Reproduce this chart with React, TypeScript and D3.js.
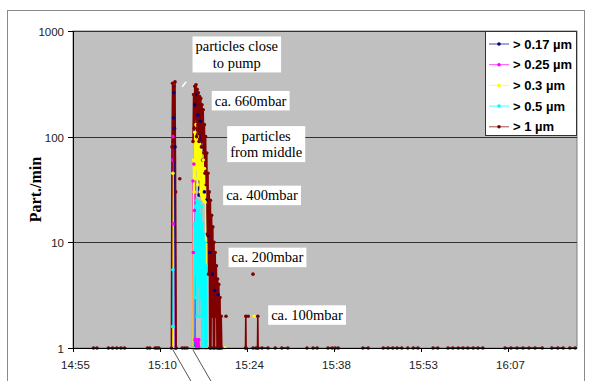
import { useEffect, useRef } from "react"
import * as d3 from "d3"

const W = 591
const H = 381

// x = minutes after 14:55, y = Part./min ; null = gap in the line
const tickMinutes = [0, 14.5, 29, 43.5, 58, 72.5]
const tickLabels = ["14:55", "15:10", "15:24", "15:38", "15:53", "16:07"]
const yTicks = [1, 10, 100, 1000]

const seriesNames = ["> 0.17 µm", "> 0.25 µm", "> 0.3 µm", "> 0.5 µm", "> 1 µm"]
const seriesColors = ["#000080", "#ff00ff", "#ffff00", "#00ffff", "#800000"]

const p017 = [
  [16.7, 1], [16.75, 150], [16.8, 260], [16.9, 120], [17.0, 80], [17.1, 1], null,
  [20.2, 1], [20.3, 200], [20.5, 250], [20.8, 160], [21.0, 28], [21.2, 140], [21.6, 60], [21.9, 30],
  [22.2, 25], [22.5, 11.6], [22.8, 8], [23.2, 5], [23.6, 3.5], [24.2, 3.2], [24.4, 1],
]

const p025 = [
  [16.55, 1], [16.6, 60], [16.65, 100], [16.7, 15], [16.75, 1], null,
  [19.95, 1], [20.0, 38], [20.05, 8], [20.15, 55], [20.25, 20], [20.35, 1.2], [20.45, 1], [20.55, 1.2],
  [20.65, 1], [20.75, 1.1], [20.85, 1], [20.95, 1.2], [21.05, 1],
]

const p03 = [
  [16.6, 1], [16.65, 45], [16.7, 1], null,
  [20.0, 1], [20.1, 60], [20.2, 30], [20.3, 110], [20.4, 40], [20.5, 130], [20.6, 50], [20.7, 100],
  [20.8, 35], [20.9, 90], [21.0, 40], [21.1, 85], [21.2, 30], [21.3, 75], [21.4, 28], [21.5, 70],
  [21.6, 26], [21.7, 60], [21.8, 25], [21.9, 50], [22.0, 24], [22.1, 35], [22.2, 1], null,
  [25.3, 1], null,
  [30.2, 2],
]

const p05 = [
  [16.62, 1.6], [16.65, 5.5], [16.68, 1.6], null,
  [20.1, 1], [20.2, 15], [20.3, 3], [20.4, 22], [20.5, 5], [20.6, 25], [20.7, 2], [20.8, 20],
  [20.9, 4], [21.0, 24], [21.1, 2], [21.2, 18], [21.3, 3], [21.4, 22], [21.5, 1], [21.6, 15],
  [21.7, 2], [21.8, 12], [21.9, 1], [22.0, 10], [22.1, 1], [22.2, 6], [22.3, 1],
]

const p1 = [
  [3.4, 1], [4.0, 1], null,
  [5.9, 1], [6.6, 1], [7.3, 1], [8.0, 1], [8.6, 1], null,
  [12.4, 1], [12.8, 1], null,
  [13.7, 1], [14.0, 1], [14.3, 1], null,
  [16.4, 1], [16.5, 80], [16.6, 320], [16.7, 90], [16.8, 300], [16.9, 60], [17.0, 330], [17.1, 30], [17.2, 1], null,
  [17.8, 40], null,
  [18.2, 1], [18.6, 1], [19.0, 1], null,
  [20.0, 90], [20.1, 250], [20.2, 120], [20.3, 300], [20.4, 150], [20.5, 310], [20.6, 100], [20.7, 280],
  [20.8, 130], [20.9, 260], [21.0, 90], [21.1, 240], [21.2, 110], [21.3, 230], [21.4, 80], [21.5, 200],
  [21.6, 90], [21.7, 180], [21.8, 70], [21.9, 130], [22.0, 45], [22.1, 100], [22.2, 35], [22.3, 70],
  [22.4, 12], [22.5, 45], [22.6, 5], [22.7, 30], [22.8, 1], [22.9, 25], [23.0, 1], [23.1, 18],
  [23.2, 2], [23.3, 14], [23.4, 1], [23.5, 10], [23.6, 1], [23.7, 8], [23.8, 2], [23.9, 6],
  [24.0, 1], [24.1, 4.5], [24.2, 1], [24.3, 4], [24.4, 1], [24.5, 3], [24.6, 1], [24.7, 2], [24.8, 1], null,
  [25.5, 2], null,
  [28.75, 1], [28.8, 2], [28.85, 1], null,
  [29.2, 2], null,
  [30.0, 5], null,
  [30.0, 1], [30.5, 1], [30.75, 1], [30.8, 2], [30.85, 1], [31.5, 1], [32.5, 1], null,
  [33.7, 1], null,
  [34.8, 1], [35.8, 1], null,
  [39.0, 1], null,
  [40.0, 1], [40.7, 1], null,
  [42.5, 1], [43.2, 1], [43.7, 1], [44.2, 1], null,
  [48.3, 1], [49.2, 1], null,
  [51.7, 1], [52.5, 1], [53.3, 1], [54.0, 1], [54.8, 1], null,
  [55.8, 1], null,
  [56.7, 1], [57.5, 1], null,
  [60.0, 1], [60.8, 1], null,
  [62.5, 1], [63.3, 1], [64.2, 1], [65.0, 1], [65.8, 1], [66.7, 1], [67.5, 1], [68.3, 1], null,
  [72.0, 1], [73.0, 1], [74.0, 1], [75.0, 1], [76.0, 1], [77.0, 1], [78.2, 1], null,
  [79.8, 1], [80.8, 1], [81.7, 1], null,
  [82.8, 1], [83.7, 1],
]

const seriesData = [p017, p025, p03, p05, p1]

// text boxes, anchored at (minute, value) of their centre
const notes = [
  { lines: ["particles close", "to pump"], m: 27.3, v: 600 },
  { lines: ["ca. 660mbar"], m: 29.6, v: 219 },
  { lines: ["particles", "from middle"], m: 32.2, v: 85 },
  { lines: ["ca. 400mbar"], m: 31.5, v: 27.8 },
  { lines: ["ca. 200mbar"], m: 32.4, v: 7.2 },
  { lines: ["ca. 100mbar"], m: 39, v: 2.05 },
]

const App = () => {
  const svgRef = useRef<SVGSVGElement>(null)

  useEffect(() => {
    document.body.style.margin = "0"
    const svg = d3.select(svgRef.current)
    svg.selectAll("*").remove()

    const left = 73, right = 577, top = 31, bottom = 348

    const x = d3.scaleLinear().domain([0, 84]).range([left, right])
    const y = d3.scaleLog().domain([1, 1000]).range([bottom, top])

    // chart border
    svg.append("rect").attr("x", 7.5).attr("y", 10.5).attr("width", 577).attr("height", 380)
      .attr("fill", "#fff").attr("stroke", "#8a8a8a")

    // plot area
    svg.append("rect").attr("x", left).attr("y", top).attr("width", right - left).attr("height", bottom - top)
      .attr("fill", "#c0c0c0").attr("stroke", "#808080")

    svg.append("g").selectAll("line").data([10, 100, 1000]).join("line")
      .attr("x1", left).attr("x2", right)
      .attr("y1", (d) => Math.round(y(d)) + 0.5).attr("y2", (d) => Math.round(y(d)) + 0.5)
      .attr("stroke", "#333").attr("stroke-width", 1)

    const line = d3.line<any>()
      .defined((d) => d !== null)
      .x((d) => x(d[0]))
      .y((d) => y(d[1]))

    // lines first, then markers
    seriesData.forEach((data, i) => {
      svg.append("path").datum(data).attr("d", line)
        .attr("fill", "none").attr("stroke", seriesColors[i]).attr("stroke-width", 1.6)
    })
    seriesData.forEach((data, i) => {
      svg.append("g").selectAll("circle").data(data.filter((d) => d !== null)).join("circle")
        .attr("cx", (d: any) => x(d[0])).attr("cy", (d: any) => y(d[1]))
        .attr("r", 1.8).attr("fill", seriesColors[i])
    })

    // y axis
    const ya = svg.append("g").attr("font-family", "'Liberation Sans', Arial, sans-serif").attr("font-size", 11.5)
    ya.append("line").attr("x1", left + 0.5).attr("x2", left + 0.5).attr("y1", top).attr("y2", bottom)
      .attr("stroke", "#000")
    yTicks.forEach((t) => {
      const yy = Math.round(y(t)) + 0.5
      ya.append("line").attr("x1", left - 5).attr("x2", left).attr("y1", yy).attr("y2", yy).attr("stroke", "#000")
      ya.append("text").attr("x", left - 9).attr("y", yy).attr("dy", "0.35em").attr("text-anchor", "end")
        .attr("fill", "#222").text(String(t))
    })

    // x axis
    const xa = svg.append("g").attr("font-family", "'Liberation Sans', Arial, sans-serif").attr("font-size", 11.5)
    xa.append("line").attr("x1", left).attr("x2", right).attr("y1", bottom + 0.5).attr("y2", bottom + 0.5)
      .attr("stroke", "#000")
    tickMinutes.forEach((t, i) => {
      const xx = Math.round(x(t)) + 0.5
      xa.append("line").attr("x1", xx).attr("x2", xx).attr("y1", bottom).attr("y2", bottom + 4).attr("stroke", "#000")
      xa.append("text").attr("x", xx + 2).attr("y", bottom + 17).attr("dy", "0.35em").attr("text-anchor", "middle")
        .attr("fill", "#222").text(tickLabels[i])
    })

    svg.append("text")
      .attr("transform", `translate(35,${(top + bottom) / 2}) rotate(-90)`)
      .attr("text-anchor", "middle").attr("dy", "0.35em")
      .attr("font-family", "'Liberation Serif', 'Times New Roman', serif").attr("font-weight", "bold")
      .attr("font-size", 16).text("Part./min")

    // pointer marks below the axis and near the first peak
    ;[16.67, 20.0].forEach((m) => {
      svg.append("line").attr("x1", x(m)).attr("y1", bottom + 2).attr("x2", x(m) + 19).attr("y2", H + 2)
        .attr("stroke", "#555").attr("stroke-width", 1)
    })
    svg.append("line").attr("x1", x(18.2)).attr("y1", y(297)).attr("x2", x(18.2) + 4).attr("y2", y(297) - 5)
      .attr("stroke", "#fff").attr("stroke-width", 1.5)

    // annotation boxes
    notes.forEach((n) => {
      const g = svg.append("g")
      const lh = 16.5
      const cx = x(n.m), cy = y(n.v)
      const t = g.append("text").attr("font-family", "'Liberation Serif', 'Times New Roman', serif")
        .attr("font-size", 14.5).attr("text-anchor", "middle").attr("fill", "#000")
      n.lines.forEach((s, k) => {
        t.append("tspan").attr("x", cx).attr("y", cy + (k - (n.lines.length - 1) / 2) * lh).attr("dy", "0.35em").text(s)
      })
      const bb = (t.node() as SVGTextElement).getBBox()
      g.insert("rect", "text").attr("x", bb.x - 3).attr("y", cy - (n.lines.length * lh) / 2 - 1.5)
        .attr("width", bb.width + 6).attr("height", n.lines.length * lh + 3).attr("fill", "#fff")
    })

    // legend
    const lg = svg.append("g")
    lg.append("rect").attr("x", 485.5).attr("y", 31.5).attr("width", 91).attr("height", 104)
      .attr("fill", "#fff").attr("stroke", "#333")
    seriesNames.forEach((name, i) => {
      const yy = 44 + i * 20.7
      lg.append("line").attr("x1", 489).attr("x2", 509).attr("y1", yy).attr("y2", yy)
        .attr("stroke", seriesColors[i]).attr("stroke-width", 1).attr("opacity", 0.7)
      lg.append("circle").attr("cx", 499).attr("cy", yy).attr("r", 1.8).attr("fill", seriesColors[i])
      lg.append("text").attr("x", 513).attr("y", yy).attr("dy", "0.35em")
        .attr("font-family", "'Liberation Sans', Arial, sans-serif").attr("font-weight", "bold")
        .attr("font-size", 13).attr("fill", "#000").text(name)
    })
  }, [])

  return <svg ref={svgRef} width={W} height={H} style={{ display: "block" }} />
}

export default App
